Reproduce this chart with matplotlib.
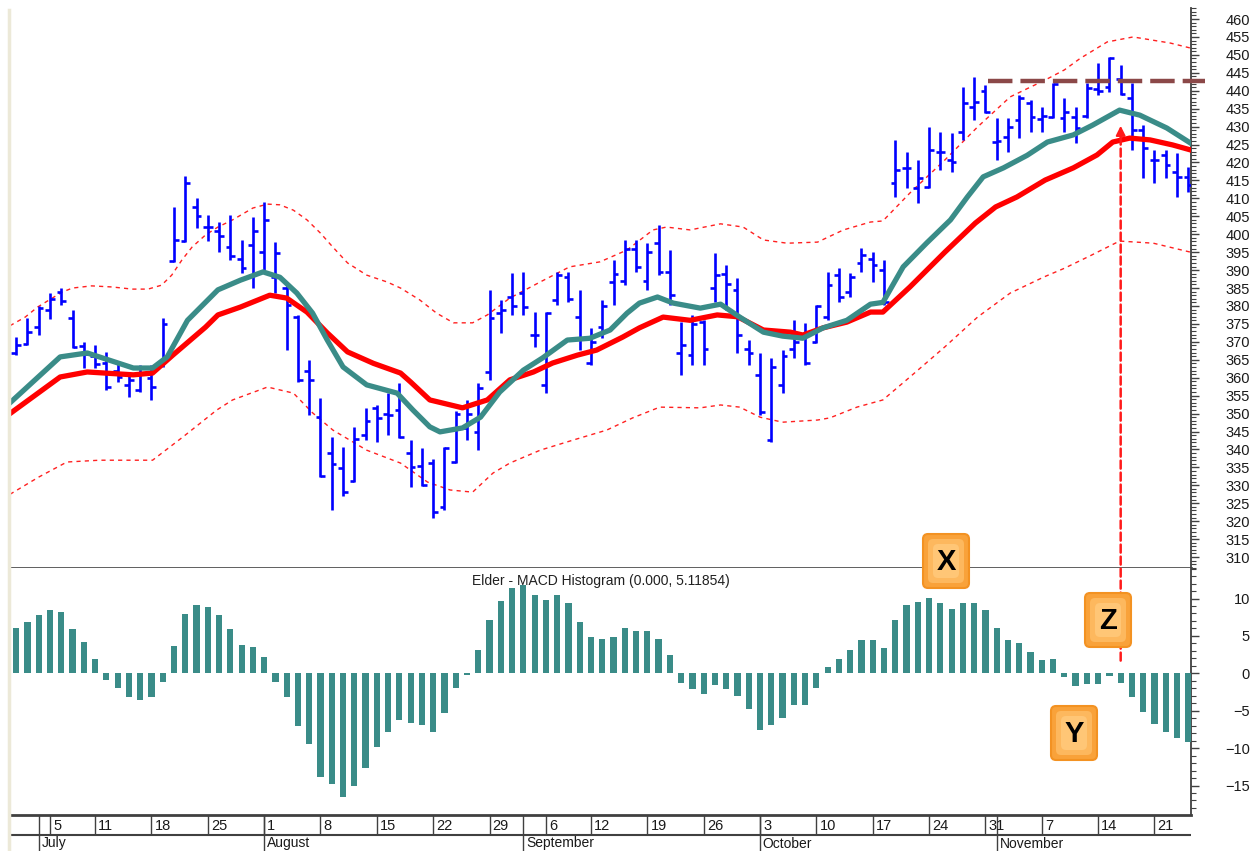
import numpy as np
import matplotlib
matplotlib.use('Agg')
import matplotlib.pyplot as plt
from matplotlib.ticker import MultipleLocator
from matplotlib.patches import FancyBboxPatch, ConnectionPatch
from matplotlib.lines import Line2D

plt.rcParams['font.family'] = ['Liberation Sans', 'DejaVu Sans']

# ---- daily bars, Jun 29 .. Nov 25 (105 trading days) ----
opens = [367, 369.5, 374, 379, 384, 376.6, 368.8, 366, 364, 362,
         358, 356.5, 360, 363.5, 392.6, 398.2, 407.6, 402, 401, 396.4,
         393, 397, 395, 388, 385, 376.9, 362, 349, 339, 334.8,
         331.2, 344, 351.6, 350, 351, 339, 335.5, 336.2, 324, 336.5,
         346, 345, 361.5, 378, 382.5, 383.6, 372, 358, 381.7, 388,
         376.9, 364, 374, 386.7, 387, 396, 387, 397.5, 389.5, 366.9,
         366.3, 375.5, 385, 389, 384.5, 368, 360.8, 342.7, 358, 368,
         372, 370, 377, 388.6, 384, 392, 393, 390, 414.3, 418.5,
         413, 413.2, 423, 420.7, 428.5, 435.5, 440, 425.7, 427.1, 431.8,
         436.5, 432, 432.7, 432.4, 432.7, 433, 440.5, 441, 443.3, 438,
         429, 420.7, 422, 417.3, 416]
highs = [371.3, 376.7, 380, 383.6, 385, 378.9, 370, 369.1, 367.2, 364,
         361.6, 363.5, 363.5, 376.6, 407.6, 416.2, 410.1, 405.4, 403.4, 405.4,
         398.4, 404.8, 409, 397.8, 386.7, 377.5, 364.9, 354.4, 343.5, 340.7,
         346.3, 351.6, 352.4, 355.7, 358.5, 342.6, 340.4, 337.4, 340.7, 350.6,
         353.8, 358.5, 384.5, 381.7, 389.2, 389.5, 378.3, 378.3, 389.5, 389.5,
         384.5, 373.9, 381.7, 392.9, 398.4, 398.4, 397.5, 402.6, 395.6, 375.5,
         377.5, 376, 394.8, 391.5, 387.8, 370.5, 366.9, 365.5, 367.7, 376,
         375.3, 380.3, 389.5, 390.6, 389.2, 396.1, 395, 392.8, 426.3, 422.9,
         420.7, 429.9, 428.5, 428.2, 441, 443.8, 441.6, 432.4, 432.4, 438.8,
         437.4, 435.5, 442.2, 438, 435.5, 442.2, 447.7, 449.4, 447.2, 442.2,
         430.4, 423.5, 423.5, 422.6, 418.7]
lows = [366.3, 369.1, 371.9, 376.4, 380.3, 368.3, 362.7, 362.7, 356.6, 358.8,
        354.6, 356, 353.8, 363, 392.3, 397.8, 401.7, 398, 395, 392.8,
        389.2, 385, 390, 383.6, 367.7, 358.8, 349.6, 332.3, 323.1, 326.9,
        331, 342.6, 342, 344, 343.2, 329.5, 329.9, 320.9, 323, 336.2,
        342.6, 339.8, 359.4, 372.5, 377.5, 377.5, 368.6, 355.7, 380.3, 381,
        367.7, 363.5, 371, 380.3, 385.8, 389.5, 384.5, 388.6, 380.3, 360.8,
        363.5, 363.5, 381, 378.9, 366.9, 363.5, 349.6, 342.1, 355.7, 365.5,
        363.5, 369.7, 376, 381, 382.5, 389.5, 386.7, 380.3, 410.4, 412.9,
        408.7, 412.9, 418, 417.3, 426.3, 431.8, 433.8, 420.7, 423, 426.8,
        428.5, 428.5, 432.4, 428.5, 425.4, 432.4, 438.8, 439.6, 438.8, 423.5,
        415.7, 414.3, 415.7, 410.4, 411.8]
closes = [369, 372.7, 379.5, 382, 381.5, 368.6, 366.5, 363.8, 357.5, 360.2,
          359.5, 361, 357.5, 375, 398.5, 414.3, 405, 402, 399.5, 393.8,
          390.6, 401, 404, 394.8, 380.3, 359.4, 359.4, 332.5, 336, 328,
          343, 348, 348.8, 349.6, 343.5, 335, 330, 322.5, 340.5, 350,
          350, 357, 376.7, 379, 380, 379.7, 372, 378, 388.5, 382,
          371, 370, 380, 389, 396, 391, 395, 389.5, 383, 369.1,
          375, 368, 388.6, 386, 372, 366.9, 350.5, 363, 366, 370,
          364, 380, 385.8, 382.5, 388, 394.2, 391.5, 381, 417.9, 418.5,
          415.7, 423.5, 423, 420, 436.6, 436.8, 434.1, 426, 430, 438,
          432.7, 433, 442, 434, 429.6, 440.8, 440, 449, 439, 429,
          424, 420.7, 419.3, 416, 413.7]

# MACD histogram, one value per bar
hist = [6.0, 6.9, 7.8, 8.4, 8.2, 5.9, 4.2, 1.9, -0.9, -2.0,
        -3.1, -3.5, -3.1, -1.1, 3.7, 7.9, 9.2, 8.8, 7.8, 5.9,
        3.8, 3.5, 2.2, -1.1, -3.1, -7.0, -9.4, -13.9, -14.8, -16.5,
        -15.0, -12.7, -9.8, -7.8, -6.3, -6.7, -6.9, -7.8, -5.3, -2.0,
        -0.2, 3.1, 7.1, 9.7, 11.4, 11.8, 10.5, 9.8, 10.5, 9.4,
        6.8, 4.9, 4.6, 4.9, 6.0, 5.7, 5.6, 4.6, 2.4, -1.25,
        -2.1, -2.8, -1.6, -2.1, -3.0, -4.8, -7.6, -6.9, -6.0, -4.3,
        -4.2, -1.9, 0.8, 1.9, 3.1, 4.4, 4.4, 3.4, 7.1, 9.2,
        9.6, 10.1, 9.4, 8.6, 9.4, 9.4, 8.4, 6.0, 4.4, 4.0,
        2.8, 1.8, 1.9, -0.5, -1.7, -1.4, -1.4, -0.4, -1.25, -3.2,
        -5.2, -6.8, -7.9, -8.6, -9.2]

# moving averages and envelope, read at bar positions
fast_x = [-0.55, 3.9, 6.3, 10.4, 12.1, 13.4, 15.2, 17.9, 19.9, 21.9, 23.4, 24.9,
          26.3, 27.6, 29.0, 31.1, 33.8, 35.2, 36.7, 37.6, 39.6, 41.2, 42.9, 45.0,
          46.7, 48.9, 50.9, 52.7, 54.2, 55.3, 56.9, 58.3, 60.7, 62.5, 64.2, 66.3,
          68.0, 69.8, 71.6, 73.7, 75.8, 76.9, 78.7, 80.8, 82.9, 84.4, 85.8, 87.6,
          89.7, 91.5, 93.8, 95.5, 97.9, 99.7, 102.1, 104.2]
fast_y = [353, 365.8, 366.9, 362.7, 362.7, 365.8, 376, 384.5, 387.2, 389.5, 388, 383.6,
          378, 370.5, 363, 358, 355.7, 351, 346.3, 344.9, 346, 349, 356, 362.1,
          365.5, 370.5, 371, 373.3, 378, 380.8, 382.5, 380.8, 379.4, 380.5, 376.9, 372.7,
          371.6, 371, 373.9, 376, 380.5, 381, 390.9, 397.6, 404, 410.4, 416, 418.5,
          422, 425.7, 427.7, 430.4, 434.6, 433.2, 429.6, 425.4]
slow_x = [-0.55, 3.9, 6.3, 10.4, 12.1, 13.9, 16.8, 17.9, 19.9, 22.5, 24.0, 25.8,
          27.6, 29.4, 31.7, 34.1, 35.0, 36.7, 39.6, 41.8, 43.8, 45.9, 47.6, 49.8,
          51.5, 53.8, 55.3, 57.4, 59.8, 62.2, 64.0, 66.3, 68.7, 69.8, 71.6, 73.7,
          75.8, 76.9, 79.3, 82.4, 85.1, 86.9, 88.8, 91.3, 93.8, 95.9, 97.3, 98.8,
          100.6, 102.6, 104.2]
slow_y = [350, 360.2, 361.6, 360.8, 361.3, 366.3, 374.1, 377.5, 379.7, 383, 382.2, 378.3,
          372.5, 367.2, 364, 361.3, 358.8, 353.8, 351.6, 353.8, 359.4, 361.6, 364.1, 366.3,
          367.7, 371.3, 373.9, 376.9, 376, 377.5, 377, 373.3, 372.7, 371.9, 373.9, 375.5,
          378.3, 378.3, 385.3, 395, 403.1, 407.6, 410.4, 415.1, 418.5, 422.1, 425.7, 426.8,
          426.3, 424.9, 423.5]
upper_x = [-0.55, 0.8, 1.9, 3.2, 4.1, 5.0, 6.7, 8.5, 10.3, 11.7, 12.9, 13.8,
           14.7, 15.6, 16.8, 17.9, 19.2, 21.0, 22.3, 23.4, 24.6, 25.8, 27.0, 28.1,
           29.4, 31.1, 32.9, 34.1, 35.8, 37.3, 38.8, 40.5, 41.8, 43.8, 46.5, 49.1,
           51.8, 54.2, 56.5, 57.7, 59.8, 62.5, 64.5, 66.3, 68.4, 71.1, 73.4, 75.8,
           76.9, 79.3, 82.4, 85.3, 88.2, 91.3, 93.0, 94.4, 96.8, 99.1, 102.4, 104.2]
upper_y = [374.5, 376.9, 379.7, 382.2, 383.9, 385, 385.6, 385.3, 384.7, 384.7, 385.8, 388.6,
           392.8, 396.4, 399.8, 402, 404, 407.3, 408.4, 408.2, 406.7, 404, 400.3, 396.4,
           392, 388.6, 386.7, 385, 381.7, 378, 375.3, 375.3, 377.5, 382.2, 386.7, 390.9,
           392.3, 395.6, 401.2, 402, 401.2, 402.9, 402, 398.4, 397.5, 397.8, 401.2, 403.4,
           403.7, 411.5, 420.7, 429.9, 438.3, 443, 445.8, 449, 453.6, 455, 453.3, 451.9]
lower_x = [-0.55, 2.0, 4.5, 7.4, 12.1, 14.8, 17.8, 19.2, 22.3, 24.6, 26.3, 28.1,
           31.1, 34.1, 36.5, 38.5, 40.5, 42.3, 43.8, 46.5, 49.4, 52.4, 54.7, 57.1,
           60.7, 62.5, 64.2, 66.0, 68.0, 71.1, 72.2, 74.6, 76.9, 79.3, 82.4, 85.3,
           88.2, 91.2, 93.0, 95.3, 97.9, 100.9, 104.2]
lower_y = [327.5, 332.3, 336.5, 337, 337, 343.5, 351, 353.8, 357.4, 355.7, 350.2, 345.4,
           339.8, 336.2, 330.9, 328.7, 328.1, 333.4, 336.2, 339.8, 342.6, 345.4, 348.8, 351.8,
           351.6, 352.4, 351.8, 349, 347.6, 348.2, 348.8, 351.8, 353.8, 360.2, 368.6, 376.9,
           383.6, 388.1, 390.5, 394, 398.1, 397.5, 395]

# date axis
day_pos = [3, 7, 12, 17, 22, 27, 32, 37, 42, 47, 51, 56, 61, 66, 71, 76, 81, 86, 91, 96, 101]
day_labels = ['5', '11', '18', '25', '1', '8', '15', '22', '29', '6', '12', '19',
              '26', '3', '10', '17', '24', '31', '7', '14', '21']
month_pos = [2, 22, 45, 66, 87]
month_labels = ['July', 'August', 'September', 'October', 'November']

# ---- layout (pixel based) ----
W, H = 1255, 851
LEFT, RIGHT = 10, 1191


def panel(top, bottom):
    return [LEFT / W, 1 - bottom / H, (RIGHT - LEFT) / W, (bottom - top) / H]


fig = plt.figure(figsize=(W / 100, H / 100), dpi=100)
fig.patch.set_facecolor('white')
ax_p = fig.add_axes(panel(8, 568))
ax_h = fig.add_axes(panel(568, 815))
ax_d = fig.add_axes(panel(815, 851))

XLIM = (-0.55, 104.24)
for ax in (ax_p, ax_h, ax_d):
    ax.set_xlim(*XLIM)

idx = np.arange(len(closes))
BLUE = '#0000ff'
TEAL = '#3a8c88'
AXC = '#404040'

# price panel
ax_p.plot(upper_x, upper_y, color='#ff2020', lw=1.0, dashes=(3, 3), zorder=2)
ax_p.plot(lower_x, lower_y, color='#ff2020', lw=1.0, dashes=(3, 3), zorder=2)
ax_p.vlines(idx, lows, highs, color=BLUE, lw=1.9, zorder=3)
ax_p.hlines(opens, idx - 0.42, idx, color=BLUE, lw=1.9, zorder=3)
ax_p.hlines(closes, idx, idx + 0.42, color=BLUE, lw=1.9, zorder=3)
ax_p.plot(slow_x, slow_y, color='#ff0000', lw=3.8, solid_joinstyle='round', zorder=4)
ax_p.plot(fast_x, fast_y, color=TEAL, lw=3.8, solid_joinstyle='round', zorder=5)

# resistance line
ax_p.plot([86.2, 105.5], [442.8, 442.8], color='#8b4848', lw=3.2,
          dashes=(5.5, 1.8), clip_on=False, zorder=6)

ax_p.set_ylim(306.95, 463.07)
ax_p.set_xticks([])
ax_p.yaxis.tick_right()
ax_p.set_yticks(np.arange(310, 461, 5))
ax_p.yaxis.set_minor_locator(MultipleLocator(1))
for s in ('left', 'top'):
    ax_p.spines[s].set_visible(False)
ax_p.spines['bottom'].set_color('#505050')
ax_p.spines['bottom'].set_linewidth(2)
ax_p.spines['right'].set_color(AXC)
ax_p.spines['right'].set_linewidth(1.3)

# histogram panel
ax_h.bar(idx, hist, width=0.55, color=TEAL, zorder=3)
ax_h.set_ylim(-18.94, 14.08)
ax_h.set_xticks([])
ax_h.yaxis.tick_right()
ax_h.set_yticks([-15, -10, -5, 0, 5, 10])
ax_h.yaxis.set_minor_locator(MultipleLocator(1))
for s in ('left', 'top'):
    ax_h.spines[s].set_visible(False)
ax_h.spines['bottom'].set_color(AXC)
ax_h.spines['bottom'].set_linewidth(2)
ax_h.spines['right'].set_color(AXC)
ax_h.spines['right'].set_linewidth(1.3)
ax_h.text(0.5, 0.947, 'Elder - MACD Histogram (0.000, 5.11854)', transform=ax_h.transAxes,
          ha='center', va='center', fontsize=10, color='#202020')

for ax in (ax_p, ax_h):
    ax.tick_params(axis='y', which='major', direction='out', length=6, width=1,
                   color=AXC, labelsize=10.5, labelcolor='#1a1a1a', pad=36.5)
    ax.tick_params(axis='y', which='minor', direction='out', length=3.5, width=0.8, color=AXC)
    for lbl in ax.yaxis.get_majorticklabels():
        lbl.set_horizontalalignment('right')

# date rows
ax_d.set_ylim(36, 0)
ax_d.axis('off')
ax_d.axhline(20, color=AXC, lw=1.5)
ax_d.vlines(day_pos, 0, 20, color=AXC, lw=1)
ax_d.vlines(month_pos, 0, 36, color=AXC, lw=1)
for p, t in zip(day_pos, day_labels):
    ax_d.text(p + 0.28, 10.5, t, ha='left', va='center', fontsize=10.5,
              color='#1a1a1a')
for p, t in zip(month_pos, month_labels):
    ax_d.text(p + 0.25, 21.5, t, ha='left', va='top', fontsize=10,
              color='#1a1a1a')

# signal arrow from histogram up to the price peak
con = ConnectionPatch(xyA=(98, 1.7), coordsA='data', axesA=ax_h,
                      xyB=(98, 428.5), coordsB='data', axesB=ax_p,
                      color='#ff1a1a', lw=1.8, linestyle=(0, (3.2, 1.6)), zorder=7)
fig.add_artist(con)
ax_p.annotate('', xy=(98, 431), xytext=(98, 427),
              arrowprops=dict(arrowstyle='-|>', color='#ff1a1a', lw=1.5,
                              mutation_scale=14), zorder=7)

# window border on the left
fig.add_artist(Line2D([9 / W, 9 / W], [0, 1 - 10 / H], color='#ECE9D8', lw=2.5))

# orange marker boxes
ax_o = fig.add_axes([0, 0, 1, 1], zorder=10)
ax_o.set_xlim(0, W)
ax_o.set_ylim(H, 0)
ax_o.axis('off')
for cx, cy, t in [(946, 561, 'X'), (1108, 620, 'Z'), (1074, 733, 'Y')]:
    ax_o.add_patch(FancyBboxPatch((cx - 20, cy - 24), 40, 48,
                                  boxstyle='round,pad=3,rounding_size=5',
                                  fc='#F9A23A', ec='#F39222', lw=1.5))
    ax_o.add_patch(FancyBboxPatch((cx - 15, cy - 19), 30, 38,
                                  boxstyle='round,pad=3,rounding_size=5',
                                  fc='#FDB85E', ec='none'))
    ax_o.add_patch(FancyBboxPatch((cx - 10, cy - 14), 20, 28,
                                  boxstyle='round,pad=3,rounding_size=5',
                                  fc='#FFC676', ec='none'))
    ax_o.text(cx, cy + 1, t, ha='center', va='center', fontsize=21,
              fontweight='bold', color='black')

fig.savefig('out.png', dpi=100, facecolor='white')
